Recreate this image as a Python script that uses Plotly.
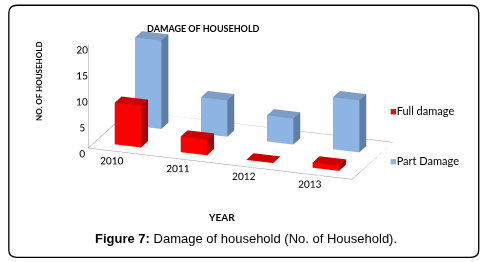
import plotly.graph_objects as go

years = ["2010", "2011", "2012", "2013"]
full_damage = [8, 3, 0, 1]
part_damage = [17, 7, 5, 10]
z_ticks = [0, 5, 10, 15, 20]

series = [
    ("Full damage", full_damage, 0, {"front": "#FF0000", "side": "#A80000", "top": "#CC0000"}, "#FF0000"),
    ("Part Damage", part_damage, 1, {"front": "#8DB4E2", "side": "#5F7EA6", "top": "#7E9CC4"}, "#8DB4E2"),
]

X_RANGE = [-0.5, 3.5]
Y_RANGE = [-0.5, 1.5]
Z_RANGE = [0, 20]
BW = 0.2   # half width along x
BD = 0.17  # half depth along y


def box(xc, yc, h):
    x0, x1 = xc - BW, xc + BW
    y0, y1 = yc - BD, yc + BD
    z0, z1 = 0, max(h, 0.08)
    xs = [x0, x1, x1, x0, x0, x1, x1, x0]
    ys = [y0, y0, y1, y1, y0, y0, y1, y1]
    zs = [z0, z0, z0, z0, z1, z1, z1, z1]
    tris = [
        (0, 1, 2, "top"), (0, 2, 3, "top"),
        (4, 5, 6, "top"), (4, 6, 7, "top"),
        (0, 1, 5, "front"), (0, 5, 4, "front"),
        (3, 2, 6, "side"), (3, 6, 7, "side"),
        (0, 3, 7, "side"), (0, 7, 4, "side"),
        (1, 2, 6, "side"), (1, 6, 5, "side"),
    ]
    return xs, ys, zs, tris


fig = go.Figure()
for name, vals, row, cols, legcol in series:
    X, Y, Z, I, J, K, FC = [], [], [], [], [], [], []
    for xi, v in enumerate(vals):
        xs, ys, zs, tris = box(xi, row, v)
        off = len(X)
        X += xs; Y += ys; Z += zs
        for a, b, c, kind in tris:
            I.append(a + off); J.append(b + off); K.append(c + off)
            FC.append(cols[kind])
    fig.add_trace(go.Mesh3d(x=X, y=Y, z=Z, i=I, j=J, k=K, facecolor=FC, name=name,
                            flatshading=True, showlegend=False, hoverinfo="skip",
                            lighting=dict(ambient=1, diffuse=0, specular=0, roughness=1, fresnel=0)))

# floor outline (axis frame)
fx = [X_RANGE[0], X_RANGE[1], X_RANGE[1], X_RANGE[0], X_RANGE[0]]
fy = [Y_RANGE[0], Y_RANGE[0], Y_RANGE[1], Y_RANGE[1], Y_RANGE[0]]
fig.add_trace(go.Scatter3d(x=fx, y=fy, z=[0] * 5, mode="lines", showlegend=False, hoverinfo="skip",
                           line=dict(color="#9a9a9a", width=1)))

legend_ann = []
for idx, (name, vals, row, cols, legcol) in enumerate(series):
    legend_ann.append(dict(text=f'<span style="color:{legcol}">■</span>{name}',
                           x=0.79, y=0.578 - idx * 0.19, xref="paper", yref="paper",
                           xanchor="left", yanchor="middle", showarrow=False,
                           font=dict(family="Lato", size=11)))

k = 2.12
axis_common = dict(showbackground=False, showgrid=False, zeroline=False, showspikes=False,
                   showline=False, title="", tickangle=0)
fig.update_layout(
    width=491, height=262,
    margin=dict(l=0, r=0, t=0, b=0),
    paper_bgcolor="white",
    font=dict(family="Lato", color="black", size=10),
    showlegend=False,
    scene=dict(
        domain=dict(x=[0.08, 0.9], y=[0.15, 0.99]),
        xaxis=dict(axis_common, range=X_RANGE, tickvals=list(range(len(years))), ticktext=years,
                   ticks="outside", ticklen=16, tickcolor="rgba(255,255,255,0)",
                   tickfont=dict(family="Lato", size=11)),
        yaxis=dict(axis_common, range=Y_RANGE, showticklabels=False, ticks=""),
        zaxis=dict(axis_common, range=Z_RANGE, tickvals=z_ticks, showline=True,
                   linecolor="#9a9a9a", linewidth=1, tickfont=dict(family="Lato", size=11)),
        aspectmode="manual", aspectratio=dict(x=2.55, y=1.09, z=1.0),
        camera=dict(eye=dict(x=0.36 * k, y=-1.0 * k, z=0.28 * k), center=dict(x=0, y=0, z=-0.19),
                    projection=dict(type="orthographic")),
    ),
    shapes=[dict(type="path", xref="paper", yref="paper",
                 path="M 0.035 0.98 L 0.958 0.98 Q 0.975 0.98 0.975 0.95 L 0.975 0.045 Q 0.975 0.018 0.958 0.018 L 0.035 0.018 Q 0.018 0.018 0.018 0.045 L 0.018 0.95 Q 0.018 0.98 0.035 0.98 Z",
                 line=dict(color="black", width=1.3))],
    annotations=[
        dict(text="<b>DAMAGE OF HOUSEHOLD</b>", x=0.415, y=0.893, xref="paper", yref="paper",
             xanchor="center", yanchor="middle", showarrow=False, font=dict(family="Lato", size=9)),
        dict(text="<b>NO. OF HOUSEHOLD</b>", x=0.079, y=0.69, xref="paper", yref="paper",
             xanchor="center", yanchor="middle", showarrow=False, textangle=-90,
             font=dict(family="Lato", size=8)),
        dict(text="<b>YEAR</b>", x=0.452, y=0.172, xref="paper", yref="paper",
             xanchor="center", yanchor="middle", showarrow=False, font=dict(family="Lato", size=10)),
        dict(text="<b>Figure 7:</b> Damage of household (No. of Household).", x=0.5, y=0.09,
             xref="paper", yref="paper", xanchor="center", yanchor="middle", showarrow=False,
             font=dict(family="Liberation Sans", size=13)),
    ] + legend_ann,
)

fig.write_html("out.html", config={"displayModeBar": False},
               post_script="document.body.style.margin='0px';")
